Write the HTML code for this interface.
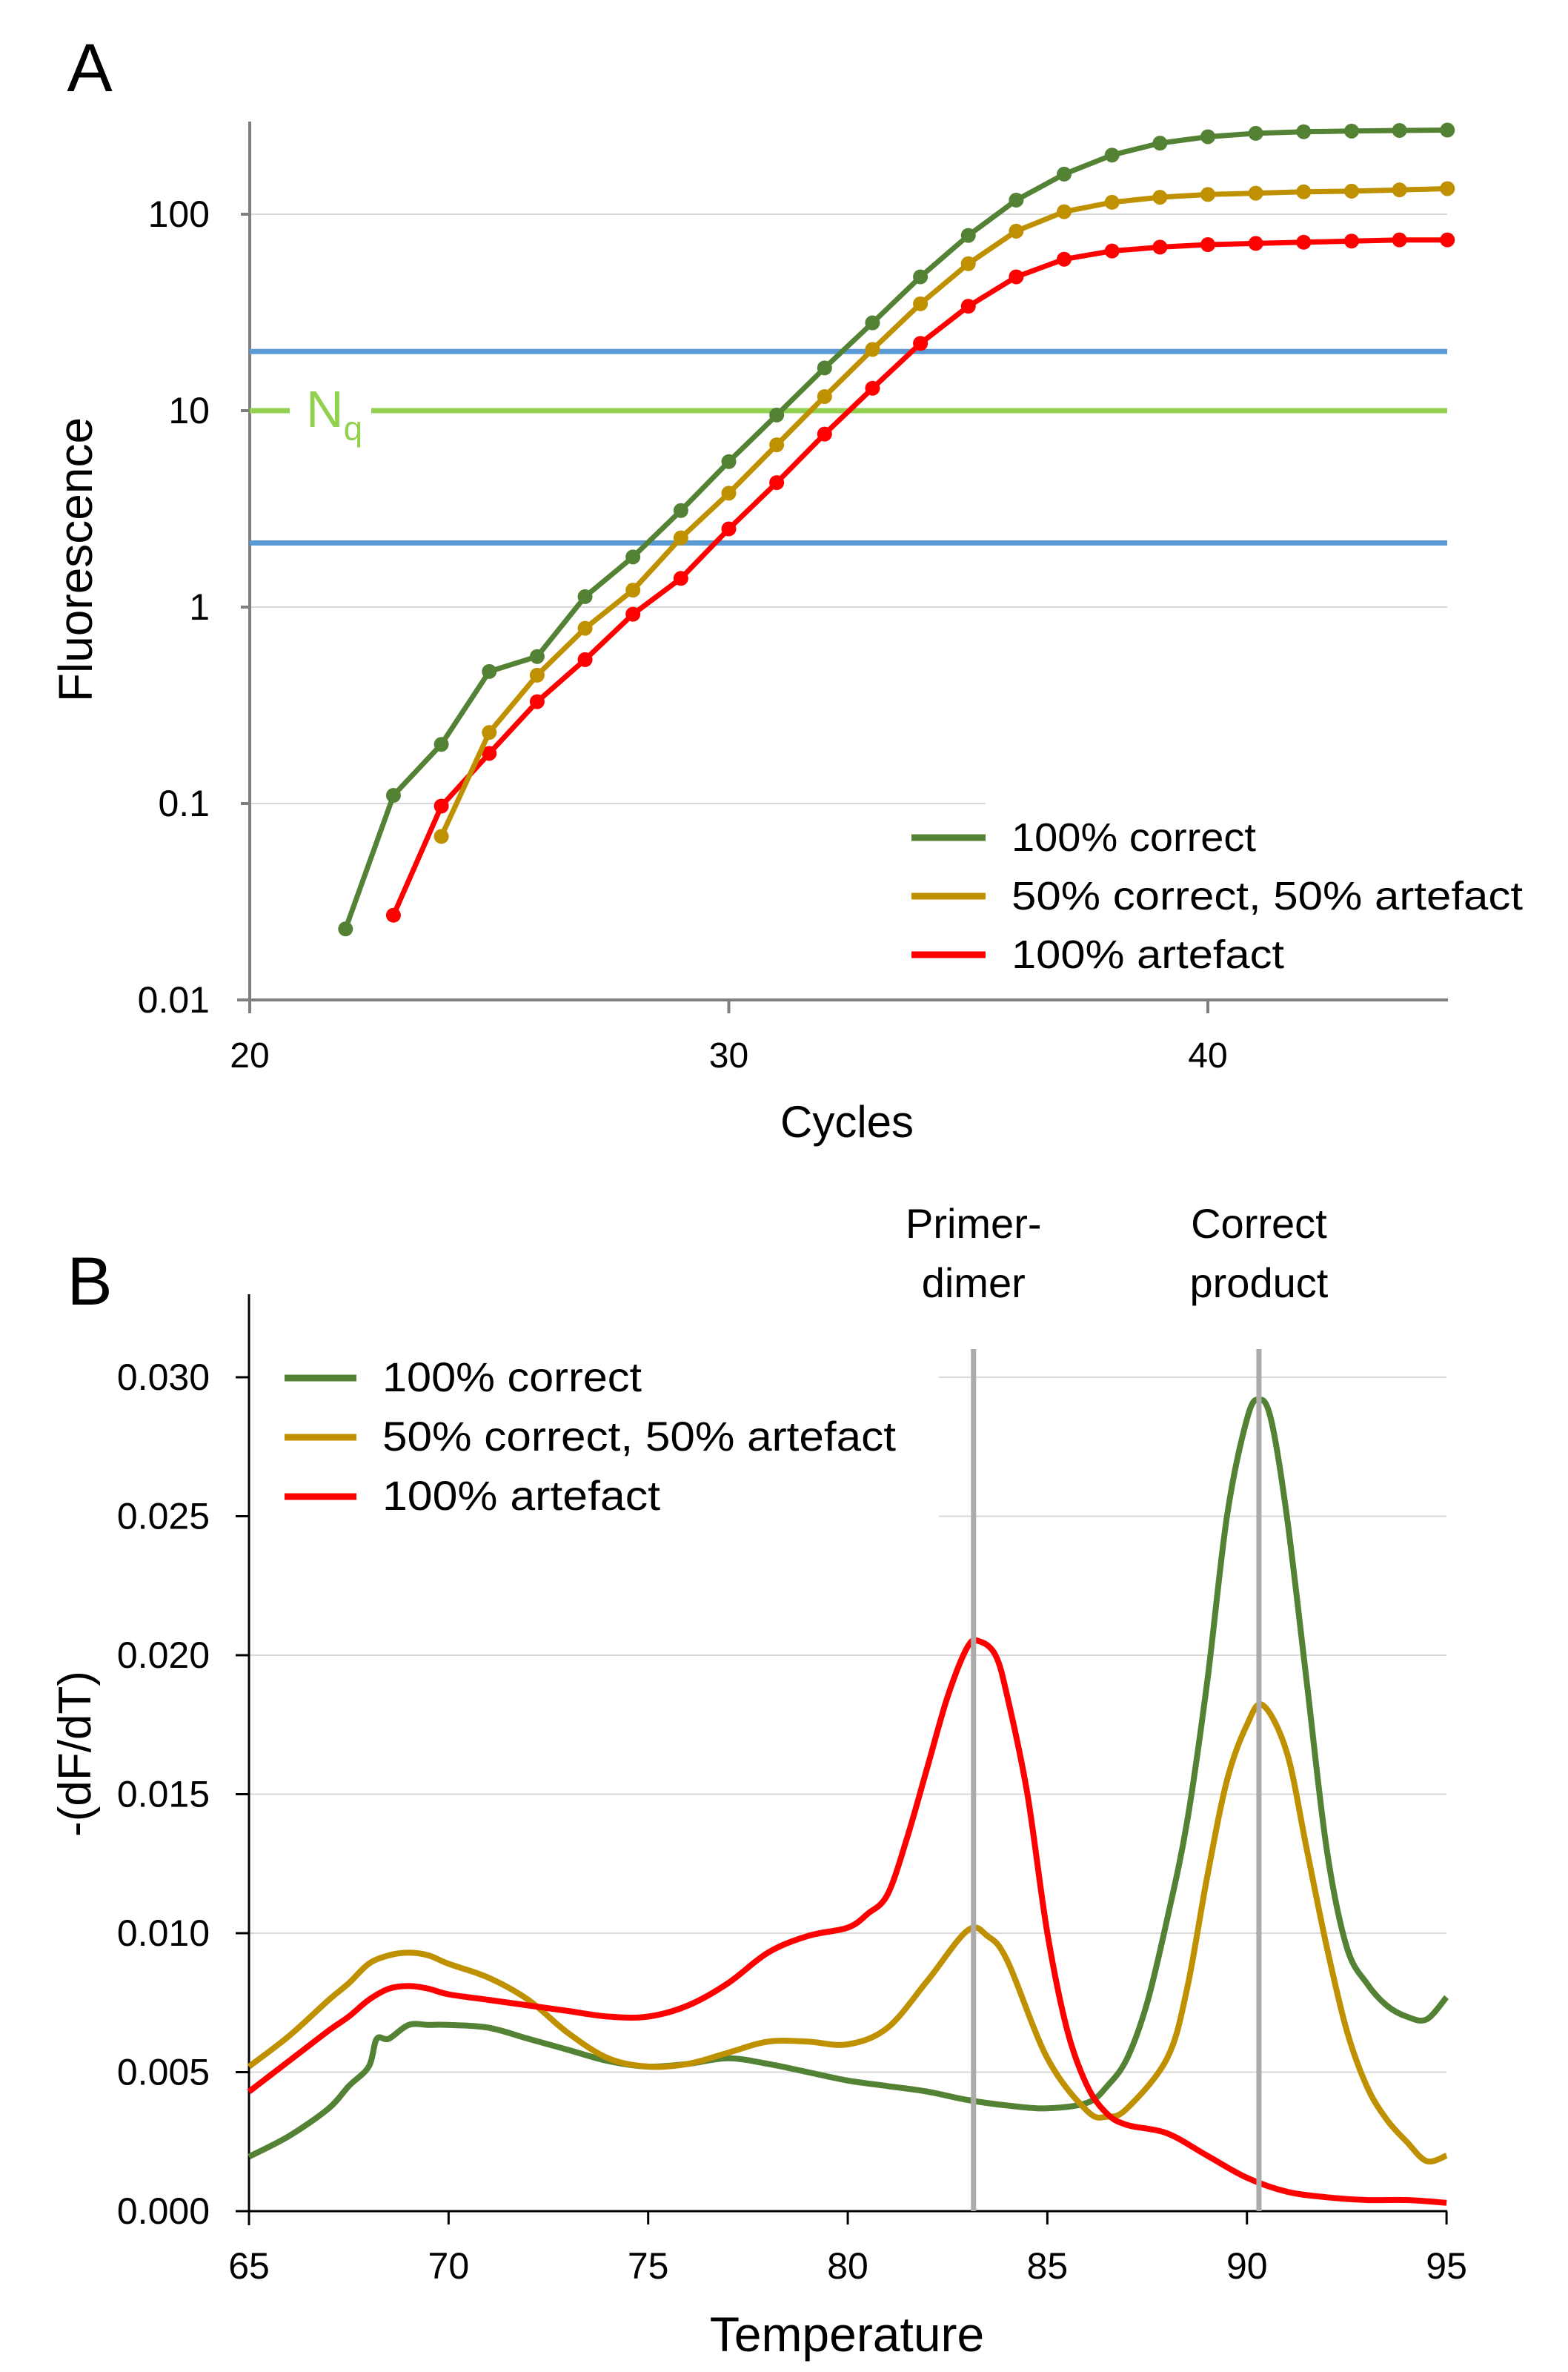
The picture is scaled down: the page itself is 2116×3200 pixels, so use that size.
<!DOCTYPE html>
<html><head><meta charset="utf-8"><style>
html,body{margin:0;padding:0;background:#fff}
svg{display:block}
text{font-family:"Liberation Sans",sans-serif;fill:#000}
</style></head><body>
<svg id="fig" width="2116" height="3200" viewBox="0 0 2116 3200" xmlns="http://www.w3.org/2000/svg">
<rect width="2116" height="3200" fill="#fff"/>
<g id="panelA"></g>
<g id="panelB"></g>
</svg>
<script>
// ---- Panel A data ----
const cyclesGreen = [22,23,24,25,26,27,28,29,30,31,32,33,34,35,36,37,38,39,40,41,42,43,44,45];
const valuesGreen = [0.023,0.11,0.2,0.47,0.56,1.13,1.8,3.1,5.5,9.5,16.5,28,48,78,118,160,200,230,248,258,263,265,267,268];
const cyclesYellow = [24,25,26,27,28,29,30,31,32,33,34,35,36,37,38,39,40,41,42,43,44,45];
const valuesYellow = [0.068,0.23,0.45,0.78,1.22,2.25,3.8,6.7,11.8,20.5,35,56,82,103,115,122,126,128,130,131,133,135];
const cyclesRed = [23,24,25,26,27,28,29,30,31,32,33,34,35,36,37,38,39,40,41,42,43,44,45];
const valuesRed = [0.027,0.097,0.18,0.33,0.54,0.92,1.4,2.5,4.3,7.6,13,22,34,48,59,65,68,70,71,72,73,74,74];
const xTicksA = [20,30,40];
const yTicksA = [0.01,0.1,1,10,100];
const yTickLabelsA = ["0.01","0.1","1","10","100"];
const thresholdsBlue = [20,2.12];
const thresholdNq = 10;

// ---- Panel B data ----
const tempsGreen = [65,66,67,67.5,68,68.2,68.5,69,69.5,70,71,72,73,74,75,76,77,78,79,80,81,82,83,84,85,86,86.5,87,87.5,88,88.5,89,89.5,90,90.3,90.6,91,91.5,92,92.5,93,93.5,94,94.5,95];
const dfGreen = [0.00196,0.0027,0.0037,0.0045,0.0052,0.0062,0.0062,0.0067,0.0067,0.0067,0.0066,0.0062,0.0058,0.0054,0.0052,0.0053,0.0055,0.0053,0.0050,0.0047,0.0045,0.0043,0.0040,0.0038,0.0037,0.0039,0.0045,0.0055,0.0075,0.0105,0.014,0.019,0.025,0.0285,0.0292,0.0285,0.025,0.019,0.013,0.0095,0.0082,0.0074,0.0070,0.0069,0.0077];
const tempsYellow = [65,66,67,67.5,68,68.5,69,69.5,70,71,72,73,74,75,76,77,78,79,80,81,82,83,83.5,84,85,86,86.5,87,88,88.5,89,89.5,90,90.4,91,91.5,92,92.5,93,93.5,94,94.5,95];
const dfYellow = [0.0052,0.0063,0.0076,0.0082,0.0089,0.0092,0.0093,0.0092,0.0089,0.0084,0.0076,0.0064,0.0055,0.0052,0.0053,0.0057,0.0061,0.0061,0.0060,0.0066,0.0083,0.0101,0.0099,0.0090,0.0055,0.0036,0.0034,0.0037,0.0055,0.0080,0.012,0.0155,0.0175,0.0182,0.0165,0.013,0.0095,0.0065,0.0045,0.0033,0.0025,0.0018,0.0020];
const tempsRed = [65,66,67,67.5,68,68.5,69,69.5,70,71,72,73,74,75,76,77,78,79,80,80.5,81,81.5,82,82.5,83,83.3,83.7,84,84.5,85,85.5,86,86.5,87,88,89,90,91,92,93,94,95];
const dfRed = [0.0043,0.0054,0.0065,0.0070,0.0076,0.0080,0.0081,0.0080,0.0078,0.0076,0.0074,0.0072,0.0070,0.0070,0.0074,0.0082,0.0093,0.0099,0.0102,0.0107,0.0114,0.0135,0.0160,0.0185,0.0203,0.0205,0.0200,0.0185,0.0150,0.0100,0.0065,0.0045,0.0035,0.0031,0.0028,0.0020,0.0012,0.0007,0.0005,0.0004,0.0004,0.0003];
const xTicksB = [65,70,75,80,85,90,95];
const yTicksB = [0,0.005,0.010,0.015,0.020,0.025,0.030];
const yTickLabelsB = ["0.000","0.005","0.010","0.015","0.020","0.025","0.030"];
const markerTemps = [83.15,90.3];

const NS = "http://www.w3.org/2000/svg";
function mk(parent, tag, attrs, txt){
  const e = document.createElementNS(NS, tag);
  for (const k in attrs) e.setAttribute(k, attrs[k]);
  if (txt !== undefined) e.textContent = txt;
  parent.appendChild(e); return e;
}
const C = {green:"#548235", yellow:"#bf9000", red:"#ff0000", blue:"#5b9bd5", lime:"#92d050", grid:"#d9d9d9"};

// ===== Panel A =====
const A = document.getElementById('panelA');
const ax = c => 337 + (c - 20) * 64.65;
const ay = v => 289 - (Math.log10(v) - 2) * 265;
let t;
t = mk(A,'text',{x:121,y:123,'font-size':92,'text-anchor':'middle'},'A');
 
yTicksA.forEach((v,i)=>{
  if (v !== 0.01) {
    const g = mk(A,'line',{x1:337,x2:(v===0.1?1330:1953),y1:ay(v),y2:ay(v),stroke:C.grid,'stroke-width':2});
     
  }
  const tk = mk(A,'line',{x1:325,x2:337,y1:ay(v),y2:ay(v),stroke:'#7f7f7f','stroke-width':4});
   
  const lb = mk(A,'text',{x:283,y:ay(v)+17,'font-size':50,'text-anchor':'end'},yTickLabelsA[i]);
   
});
xTicksA.forEach(v=>{
  const tk = mk(A,'line',{x1:ax(v),x2:ax(v),y1:1349,y2:1367,stroke:'#7f7f7f','stroke-width':4});
   
  const lb = mk(A,'text',{x:ax(v),y:1440,'font-size':48,'text-anchor':'middle'},String(v));
   
});
let l = mk(A,'line',{x1:337,x2:337,y1:164,y2:1367,stroke:'#7f7f7f','stroke-width':4});
 
l = mk(A,'line',{x1:320,x2:1954,y1:1349,y2:1349,stroke:'#7f7f7f','stroke-width':4});
 
thresholdsBlue.forEach(v=>{
  const b = mk(A,'line',{x1:337,x2:1953,y1:ay(v),y2:ay(v),stroke:C.blue,'stroke-width':7});
   
});
l = mk(A,'line',{x1:337,x2:1953,y1:ay(thresholdNq),y2:ay(thresholdNq),stroke:C.lime,'stroke-width':7});
 
mk(A,'rect',{x:391,y:ay(thresholdNq)-40,width:110,height:80,fill:'#fff'});
t = mk(A,'text',{x:413,y:ay(thresholdNq)+22,'font-size':70,fill:C.lime});
 
t.style.fill = C.lime;
t.appendChild(document.createTextNode('N'));
mk(t,'tspan',{'font-size':46,dy:18},'q');

function seriesA(xs, vs, col, name){
  const g = mk(A,'g',{});
   
  const pts = xs.map((c,i)=>ax(c).toFixed(1)+','+ay(vs[i]).toFixed(1)).join(' ');
  mk(g,'polyline',{points:pts,fill:'none',stroke:col,'stroke-width':7,'stroke-linejoin':'round'});
  xs.forEach((c,i)=>{
    const p = mk(g,'circle',{cx:ax(c),cy:ay(vs[i]),r:10,fill:col});
     
  });
}
seriesA(cyclesRed, valuesRed, C.red, 'series-a-artefact');
seriesA(cyclesYellow, valuesYellow, C.yellow, 'series-a-mixed');
seriesA(cyclesGreen, valuesGreen, C.green, 'series-a-correct');

const legA = [["100% correct",C.green],["50% correct, 50% artefact",C.yellow],["100% artefact",C.red]];
const legAW = [330,690,368];
legA.forEach((e,i)=>{
  const y = 1130 + i*79;
  const g = mk(A,'g',{});
   
  mk(g,'line',{x1:1230,x2:1330,y1:y,y2:y,stroke:e[1],'stroke-width':9});
  mk(g,'text',{x:1365,y:y+18,'font-size':54,textLength:legAW[i],lengthAdjust:'spacingAndGlyphs'},e[0]);
});
t = mk(A,'text',{x:1143,y:1534,'font-size':60,'text-anchor':'middle'},'Cycles');
 
t = mk(A,'text',{x:0,y:0,'font-size':64,'text-anchor':'middle',transform:'translate(124,755) rotate(-90)'},'Fluorescence');
 

// ===== Panel B =====
const B = document.getElementById('panelB');
const bx = v => 336 + (v - 65) * 53.87;
const by = v => 2983 - v / 0.005 * 187.5;
t = mk(B,'text',{x:121,y:1760,'font-size':92,'text-anchor':'middle'},'B');
 
yTicksB.forEach((v,i)=>{
  if (v > 0) {
    const g = mk(B,'line',{x1:(v>=0.025?1267:336),x2:1952,y1:by(v),y2:by(v),stroke:C.grid,'stroke-width':2});
     
  }
  const tk = mk(B,'line',{x1:318,x2:336,y1:by(v),y2:by(v),stroke:'#000','stroke-width':3});
   
  const lb = mk(B,'text',{x:283,y:by(v)+17,'font-size':50,'text-anchor':'end'},yTickLabelsB[i]);
   
});
xTicksB.forEach(v=>{
  const tk = mk(B,'line',{x1:bx(v),x2:bx(v),y1:2983,y2:3001,stroke:'#000','stroke-width':3});
   
  const lb = mk(B,'text',{x:bx(v),y:3074,'font-size':50,'text-anchor':'middle'},String(v));
   
});
l = mk(B,'line',{x1:336,x2:336,y1:1746,y2:3002,stroke:'#000','stroke-width':3});
 
l = mk(B,'line',{x1:318,x2:1953,y1:2983,y2:2983,stroke:'#000','stroke-width':3});
 

function smoothPath(P){
  let d = 'M'+P[0][0].toFixed(1)+','+P[0][1].toFixed(1);
  for (let i=0;i<P.length-1;i++){
    const p0=P[Math.max(0,i-1)], p1=P[i], p2=P[i+1], p3=P[Math.min(P.length-1,i+2)];
    const c1x=p1[0]+(p2[0]-p0[0])/6, c1y=p1[1]+(p2[1]-p0[1])/6;
    const c2x=p2[0]-(p3[0]-p1[0])/6, c2y=p2[1]-(p3[1]-p1[1])/6;
    d+=' C'+c1x.toFixed(1)+','+c1y.toFixed(1)+' '+c2x.toFixed(1)+','+c2y.toFixed(1)+' '+p2[0].toFixed(1)+','+p2[1].toFixed(1);
  }
  return d;
}
function seriesB(xs, vs, col, name){
  const P = xs.map((c,i)=>[bx(c), by(vs[i])]);
  const p = mk(B,'path',{d:smoothPath(P),fill:'none',stroke:col,'stroke-width':8,'stroke-linejoin':'round'});
   
}
seriesB(tempsGreen, dfGreen, C.green, 'series-b-correct');
seriesB(tempsYellow, dfYellow, C.yellow, 'series-b-mixed');
seriesB(tempsRed, dfRed, C.red, 'series-b-artefact');
markerTemps.forEach(v=>{
  const m = mk(B,'line',{x1:bx(v),x2:bx(v),y1:1820,y2:2983,stroke:'#aeaaaa','stroke-width':7});
   
});
const annos = [["Primer-","dimer",bx(markerTemps[0])],["Correct","product",bx(markerTemps[1])]];
annos.forEach(a=>{
  const g = mk(B,'g',{});
   
  mk(g,'text',{x:a[2],y:1670,'font-size':56,'text-anchor':'middle'},a[0]);
  mk(g,'text',{x:a[2],y:1750,'font-size':56,'text-anchor':'middle'},a[1]);
});
const legBW = [350,693,375];
legA.forEach((e,i)=>{
  const y = 1859 + i*80;
  const g = mk(B,'g',{});
   
  mk(g,'line',{x1:384,x2:481,y1:y,y2:y,stroke:e[1],'stroke-width':9});
  mk(g,'text',{x:516,y:y+18,'font-size':56,textLength:legBW[i],lengthAdjust:'spacingAndGlyphs'},e[0]);
});
t = mk(B,'text',{x:1143,y:3172,'font-size':66,'text-anchor':'middle'},'Temperature');
 
t = mk(B,'text',{x:0,y:0,'font-size':62,'text-anchor':'middle',transform:'translate(122,2366) rotate(-90)'},'-(dF/dT)');
 
</script>
</body></html>
